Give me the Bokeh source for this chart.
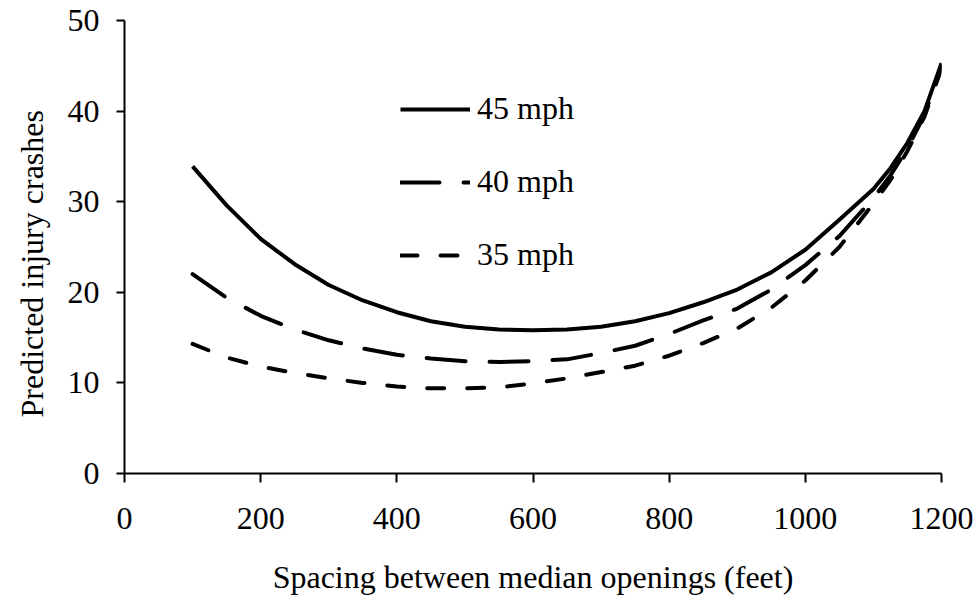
from bokeh.plotting import figure
from bokeh.models import Range1d, FixedTicker, Title
from bokeh.embed import file_html
from bokeh.resources import INLINE

# ---- data ----
spacing_ft = [100, 150, 200, 250, 300, 350, 400, 450, 500, 550, 600, 650, 700,
              750, 800, 850, 900, 950, 1000, 1050, 1100, 1125, 1150, 1175, 1200]
crashes_45mph = [33.9, 29.6, 25.9, 23.1, 20.8, 19.1, 17.8, 16.8, 16.2, 15.9, 15.8, 15.9, 16.2,
                 16.8, 17.7, 18.9, 20.3, 22.2, 24.7, 28.0, 31.4, 33.7, 36.5, 40.0, 45.3]
crashes_40mph = [22.0, 19.4, 17.4, 15.9, 14.7, 13.8, 13.1, 12.7, 12.4, 12.3, 12.4, 12.6, 13.3,
                 14.1, 15.4, 16.9, 18.2, 20.3, 23.0, 26.2, 30.4, 32.9, 35.9, 39.6, 45.0]
crashes_35mph = [14.3, 12.8, 11.8, 11.1, 10.5, 10.0, 9.6, 9.4, 9.4, 9.5, 9.95, 10.5, 11.2,
                 11.9, 13.0, 14.4, 16.0, 18.3, 21.3, 25.0, 29.8, 32.4, 35.6, 39.4, 44.7]
series_labels = ["45 mph", "40 mph", "35 mph"]
x_ticks = [0, 200, 400, 600, 800, 1000, 1200]
y_ticks = [0, 10, 20, 30, 40, 50]
x_title = "Spacing between median openings (feet)"
y_title = "Predicted injury crashes"

FONT = "Liberation Serif"

p = figure(width=975, height=597, frame_width=817, frame_height=453,
           min_border_left=124, min_border_top=20, min_border_right=34, min_border_bottom=124,
           output_backend="svg", toolbar_location=None,
           x_range=Range1d(0, 1200), y_range=Range1d(0, 50))
p.outline_line_color = None
p.xgrid.grid_line_color = None
p.ygrid.grid_line_color = None
p.background_fill_color = "white"
p.border_fill_color = "white"

p.line(spacing_ft, crashes_45mph, line_color="black", line_width=4,
       line_join="round", legend_label=series_labels[0])
p.line(spacing_ft, crashes_40mph, line_color="black", line_width=4, line_cap="round",
       line_dash="39 24", legend_label=series_labels[1])
p.line(spacing_ft, crashes_35mph, line_color="black", line_width=4, line_cap="round",
       line_dash="17 23", legend_label=series_labels[2])

for ax in (p.xaxis[0], p.yaxis[0]):
    ax.axis_line_color = "black"
    ax.axis_line_width = 2
    ax.major_tick_line_color = "black"
    ax.major_tick_line_width = 2
    ax.major_tick_in = 0
    ax.minor_tick_line_color = None
    ax.major_label_text_font = FONT
    ax.major_label_text_font_size = "32px"
    ax.major_label_text_color = "black"

p.xaxis[0].ticker = FixedTicker(ticks=x_ticks)
p.yaxis[0].ticker = FixedTicker(ticks=y_ticks)
p.xaxis[0].major_tick_out = 9
p.yaxis[0].major_tick_out = 8
p.xaxis[0].major_label_standoff = 25
p.yaxis[0].major_label_standoff = 17

p.xaxis[0].axis_label = x_title
p.xaxis[0].axis_label_text_font = FONT
p.xaxis[0].axis_label_text_font_size = "32px"
p.xaxis[0].axis_label_text_font_style = "normal"
p.xaxis[0].axis_label_text_color = "black"
p.xaxis[0].axis_label_standoff = 27

ytitle = Title(text=y_title, align="left", vertical_align="top", offset=56, standoff=26,
               text_font=FONT, text_font_size="32px", text_font_style="normal",
               text_color="black")
p.add_layout(ytitle, "left")

lg = p.legend[0]
lg.location = (276, 200)
lg.padding = 0
lg.margin = 0
lg.spacing = 36
lg.glyph_width = 70
lg.glyph_height = 32
lg.label_height = 32
lg.label_standoff = 7
lg.label_text_font = FONT
lg.label_text_font_size = "32px"
lg.label_text_color = "black"
lg.border_line_color = None
lg.background_fill_alpha = 0

open("out.html", "w").write(file_html(p, INLINE))
